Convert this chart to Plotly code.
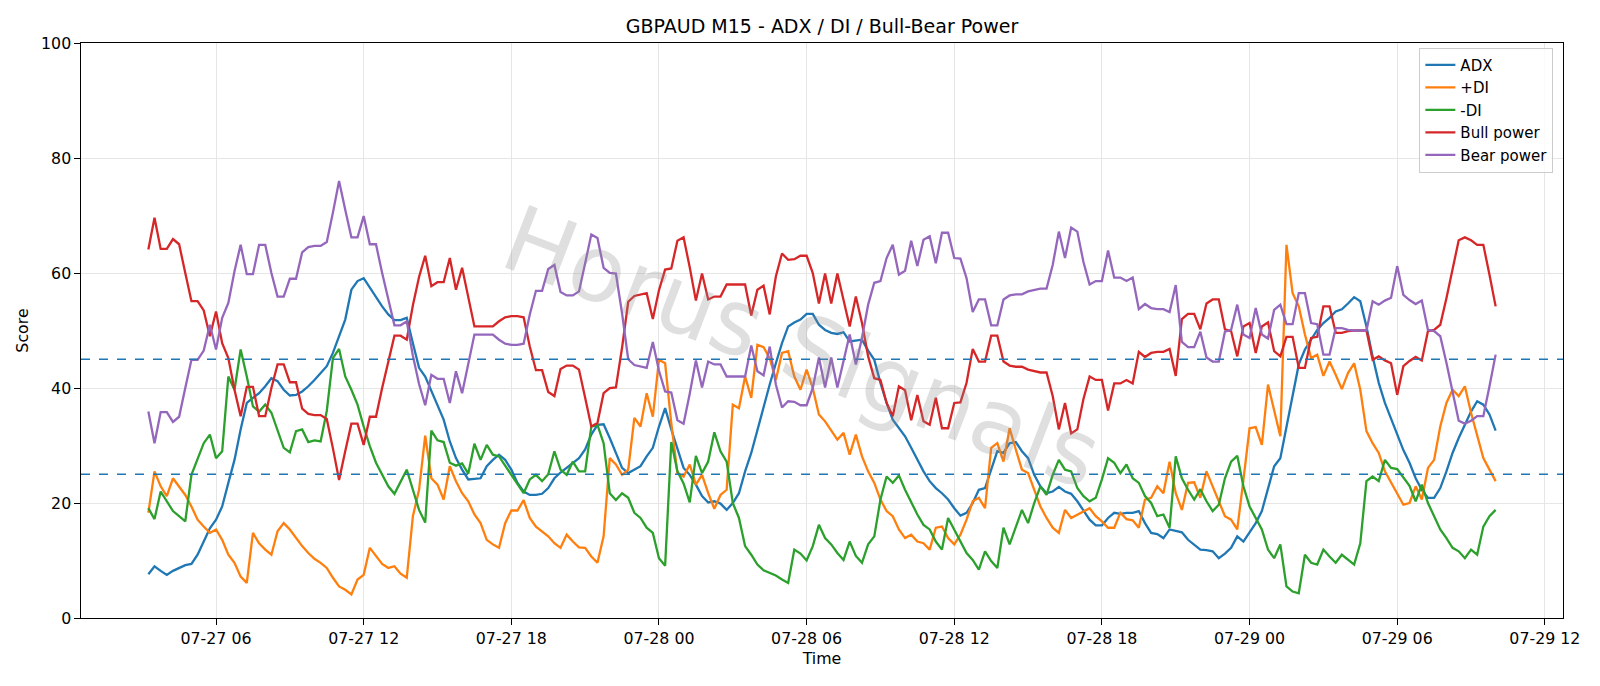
import pandas as pd
import plotly.graph_objects as go

start = "2020-07-27 03:15"
n_points = 220

adx = [
    7.6, 9.0, 8.2, 7.5, 8.2, 8.7, 9.2, 9.4, 11.0, 13.3,
    15.6, 17.1, 19.4, 23.5, 27.5, 32.8, 37.4, 38.3, 39.1, 40.3,
    41.7, 41.2, 39.7, 38.7, 38.8, 39.4, 40.3, 41.4, 42.6, 43.8,
    46.1, 49.0, 51.9, 57.1, 58.6, 59.1, 57.4, 55.7, 54.2, 52.8,
    51.8, 51.8, 52.2, 47.8, 43.5, 42.0, 39.4, 36.8, 34.5, 30.7,
    27.8, 25.8, 24.1, 24.2, 24.3, 26.4, 27.5, 28.4, 27.5, 25.8,
    23.5, 22.0, 21.4, 21.4, 21.6, 22.6, 24.3, 25.3, 26.1, 27.0,
    27.8, 29.3, 31.9, 33.6, 33.7, 31.3, 28.7, 26.1, 25.2, 25.8,
    26.4, 28.1, 29.6, 33.3, 36.5, 32.8, 29.3, 26.1, 24.9, 23.2,
    21.2, 20.1, 20.3, 19.9, 18.8, 20.0, 21.7, 25.5, 28.7, 32.8,
    36.8, 40.6, 44.3, 47.8, 50.7, 51.4, 51.9, 52.9, 52.9, 51.0,
    50.1, 49.6, 49.4, 49.7, 48.1, 48.2, 48.4, 46.5, 44.9, 40.9,
    37.4, 34.5, 33.0, 31.6, 29.6, 27.5, 25.5, 23.8, 22.6, 21.7,
    20.6, 19.1, 17.8, 18.3, 20.0, 22.3, 22.6, 25.8, 29.0, 28.7,
    30.4, 30.6, 29.0, 27.8, 24.9, 22.9, 21.7, 22.0, 22.8, 22.0,
    21.6, 20.3, 18.8, 17.1, 16.1, 16.1, 17.4, 18.3, 18.1, 18.3,
    18.3, 18.6, 16.5, 14.8, 14.6, 13.9, 15.4, 15.2, 14.9, 13.6,
    12.8, 11.9, 11.8, 11.6, 10.4, 11.2, 12.2, 14.2, 13.3, 14.8,
    16.5, 18.6, 22.3, 26.4, 27.8, 33.3, 39.1, 44.1, 46.7, 48.4,
    50.1, 51.3, 52.2, 53.3, 53.7, 54.7, 55.8, 55.1, 50.7, 45.5,
    40.9, 37.4, 34.6, 31.9, 29.2, 27.0, 24.3, 22.3, 20.9, 20.9,
    22.6, 25.5, 28.7, 31.3, 33.6, 35.9, 37.7, 37.1, 35.4, 32.6,
]

plus_di = [
    18.3, 25.5, 22.9, 21.2, 24.3, 22.9, 21.4, 19.4, 17.1, 15.9,
    14.8, 15.4, 13.6, 11.0, 9.6, 7.2, 6.1, 14.8, 13.0, 11.9,
    11.0, 15.1, 16.5, 15.4, 13.9, 12.5, 11.3, 10.3, 9.6, 8.7,
    7.0, 5.5, 4.9, 4.1, 6.7, 7.5, 12.2, 10.7, 9.4, 8.7,
    9.0, 7.7, 7.0, 17.7, 22.3, 31.7, 24.3, 23.2, 20.6, 26.4,
    23.8, 21.7, 20.3, 18.0, 16.5, 13.6, 12.8, 12.2, 16.5, 18.7,
    18.7, 20.5, 17.4, 15.9, 15.1, 14.2, 13.0, 12.2, 14.5, 13.3,
    12.3, 12.2, 10.7, 9.6, 14.2, 27.8, 26.7, 24.9, 25.8, 34.8,
    33.3, 39.1, 35.0, 44.9, 44.3, 33.9, 25.2, 24.6, 26.7, 23.2,
    24.9, 21.7, 19.0, 21.4, 22.3, 37.1, 36.5, 42.0, 38.3, 47.5,
    47.1, 45.2, 41.4, 46.1, 46.4, 42.0, 39.7, 43.2, 40.0, 35.4,
    34.2, 32.5, 31.0, 32.2, 28.4, 31.9, 28.1, 25.5, 23.5, 20.6,
    18.6, 17.7, 15.4, 13.9, 14.5, 13.3, 13.0, 11.9, 15.7, 15.9,
    13.9, 12.8, 14.5, 17.1, 20.3, 20.9, 19.1, 29.6, 30.4, 27.2,
    33.0, 29.3, 25.8, 25.2, 22.3, 19.4, 17.4, 15.7, 14.8, 18.8,
    17.4, 18.0, 18.6, 19.1, 17.7, 16.8, 15.7, 15.7, 18.3, 17.2,
    17.0, 15.7, 20.6, 20.9, 22.9, 21.7, 27.2, 21.7, 18.8, 23.5,
    23.6, 20.9, 25.5, 22.9, 20.0, 17.7, 17.1, 15.4, 24.0, 33.0,
    33.2, 30.1, 40.6, 36.2, 31.6, 64.9, 56.5, 54.2, 49.3, 45.2,
    45.8, 42.1, 44.6, 42.3, 39.8, 42.6, 44.3, 39.7, 32.5, 30.4,
    28.7, 25.5, 23.5, 21.5, 19.7, 20.0, 22.9, 20.6, 26.1, 27.5,
    33.3, 37.4, 39.7, 38.6, 40.3, 35.7, 31.6, 27.8, 25.8, 23.8,
]

minus_di = [
    19.1, 17.2, 22.0, 20.3, 18.6, 17.7, 16.8, 24.9, 27.8, 30.4,
    31.9, 27.8, 29.0, 42.0, 39.7, 46.7, 42.0, 36.8, 35.9, 37.1,
    35.7, 32.5, 29.6, 28.8, 32.5, 32.8, 30.6, 30.9, 30.7, 36.0,
    45.2, 46.8, 42.0, 39.7, 37.1, 33.3, 29.9, 27.0, 24.9, 22.9,
    21.6, 23.8, 25.8, 22.3, 18.8, 16.6, 32.6, 30.9, 30.6, 27.0,
    26.5, 26.9, 25.1, 30.3, 27.5, 30.1, 28.4, 28.1, 26.5, 24.9,
    23.5, 21.7, 24.1, 24.9, 23.8, 25.0, 29.0, 25.8, 24.9, 27.2,
    25.5, 25.5, 33.3, 33.6, 30.4, 21.7, 20.5, 21.7, 20.9, 18.3,
    17.4, 15.7, 14.8, 10.4, 9.1, 30.6, 25.5, 23.4, 20.1, 28.2,
    25.2, 27.2, 32.3, 29.0, 27.2, 20.0, 17.4, 12.5, 11.0, 9.3,
    8.3, 7.8, 7.4, 6.7, 6.1, 11.9, 11.2, 10.0, 12.5, 16.2,
    13.9, 12.8, 11.3, 10.1, 13.3, 10.8, 9.6, 12.8, 14.2, 20.6,
    24.6, 23.5, 24.8, 22.3, 20.0, 18.0, 16.2, 15.4, 13.3, 11.9,
    17.4, 15.4, 13.3, 11.3, 10.1, 8.4, 11.6, 9.9, 8.7, 15.7,
    12.8, 15.7, 18.8, 16.5, 20.0, 22.9, 21.4, 24.9, 27.5, 25.8,
    25.5, 22.6, 21.2, 20.3, 20.9, 24.1, 27.8, 27.0, 25.2, 26.7,
    24.3, 23.5, 21.2, 20.0, 17.7, 18.0, 15.7, 28.1, 24.3, 22.3,
    20.6, 22.4, 20.3, 18.6, 19.7, 24.3, 27.2, 28.2, 22.9, 19.4,
    17.4, 15.4, 11.9, 10.4, 12.8, 5.5, 4.6, 4.3, 11.0, 9.6,
    9.3, 11.9, 10.7, 9.6, 11.0, 10.1, 9.3, 13.0, 23.8, 24.6,
    23.8, 27.5, 26.1, 25.9, 24.5, 23.0, 20.3, 23.2, 20.0, 17.7,
    15.4, 13.9, 12.2, 11.6, 10.4, 11.9, 11.0, 15.9, 17.7, 18.8,
]

bull_power = [
    64.1, 69.6, 64.2, 64.2, 65.9, 65.0, 60.0, 55.1, 55.1, 53.5,
    49.0, 53.3, 47.8, 45.2, 39.7, 35.1, 40.2, 40.2, 35.1, 35.1,
    40.0, 44.1, 44.1, 41.0, 41.0, 36.4, 35.5, 35.3, 35.3, 34.6,
    29.5, 24.0, 29.0, 33.8, 33.8, 30.1, 35.0, 35.0, 40.0, 44.6,
    49.1, 49.1, 48.4, 54.4, 59.3, 63.0, 57.7, 58.4, 58.4, 62.6,
    57.1, 60.9, 55.5, 50.7, 50.7, 50.7, 50.7, 51.6, 52.3, 52.5,
    52.5, 52.3, 47.2, 43.1, 43.1, 39.3, 38.6, 43.3, 43.9, 43.9,
    43.2, 38.3, 33.3, 33.9, 39.1, 40.0, 40.1, 47.0, 55.0, 56.0,
    56.3, 56.5, 52.0, 57.0, 60.6, 60.8, 65.6, 66.2, 61.0, 55.2,
    59.9, 55.4, 55.9, 55.9, 58.0, 58.0, 58.0, 58.0, 52.6, 57.1,
    57.8, 52.8, 59.4, 63.4, 62.3, 62.4, 63.0, 63.0, 60.0, 54.7,
    59.9, 54.7, 59.9, 55.4, 50.7, 55.9, 51.3, 45.5, 41.7, 41.4,
    37.4, 35.1, 40.3, 39.6, 34.4, 38.8, 34.2, 33.6, 38.3, 33.0,
    33.0, 37.4, 37.5, 40.9, 46.8, 44.6, 44.6, 49.1, 49.1, 44.6,
    43.9, 43.7, 43.7, 43.2, 42.9, 42.7, 42.7, 38.6, 32.8, 37.4,
    32.1, 32.8, 38.1, 42.0, 41.4, 41.4, 36.1, 40.8, 40.8, 41.4,
    40.8, 46.3, 45.4, 46.1, 46.3, 46.3, 46.8, 42.1, 52.0, 52.9,
    52.9, 50.2, 54.7, 55.4, 55.4, 50.2, 49.9, 45.5, 50.7, 51.3,
    46.1, 50.7, 51.4, 46.4, 45.5, 48.9, 48.9, 43.5, 43.5, 48.7,
    48.9, 54.2, 54.2, 49.6, 49.6, 49.9, 50.0, 50.0, 50.0, 44.9,
    45.5, 44.8, 44.3, 38.8, 43.8, 44.7, 45.4, 44.8, 49.9, 50.1,
    51.0, 55.6, 60.6, 65.7, 66.2, 65.7, 64.9, 64.9, 59.7, 54.2,
]

bear_power = [
    35.9, 30.4, 35.8, 35.8, 34.1, 35.0, 40.0, 44.9, 44.9, 46.5,
    51.0, 46.7, 52.2, 54.8, 60.3, 64.9, 59.8, 59.8, 64.9, 64.9,
    60.0, 55.9, 55.9, 59.0, 59.0, 63.6, 64.5, 64.7, 64.7, 65.4,
    70.5, 76.0, 71.0, 66.2, 66.2, 69.9, 65.0, 65.0, 60.0, 55.4,
    50.9, 50.9, 51.6, 45.6, 40.7, 37.0, 42.3, 41.6, 41.6, 37.4,
    42.9, 39.1, 44.5, 49.3, 49.3, 49.3, 49.3, 48.4, 47.7, 47.5,
    47.5, 47.7, 52.8, 56.9, 56.9, 60.7, 61.4, 56.7, 56.1, 56.1,
    56.8, 61.7, 66.7, 66.1, 60.9, 60.0, 59.9, 53.0, 45.0, 44.0,
    43.7, 43.5, 48.0, 43.0, 39.4, 39.2, 34.4, 33.8, 39.0, 44.8,
    40.1, 44.6, 44.1, 44.1, 42.0, 42.0, 42.0, 42.0, 47.4, 42.9,
    42.2, 47.2, 40.6, 36.6, 37.7, 37.6, 37.0, 37.0, 40.0, 45.3,
    40.1, 45.3, 40.1, 44.6, 49.3, 44.1, 48.7, 54.5, 58.3, 58.6,
    62.6, 64.9, 59.7, 60.4, 65.6, 61.2, 65.8, 66.4, 61.7, 67.0,
    67.0, 62.6, 62.5, 59.1, 53.2, 55.4, 55.4, 50.9, 50.9, 55.4,
    56.1, 56.3, 56.3, 56.8, 57.1, 57.3, 57.3, 61.4, 67.2, 62.6,
    67.9, 67.2, 61.9, 58.0, 58.6, 58.6, 63.9, 59.2, 59.2, 58.6,
    59.2, 53.7, 54.6, 53.9, 53.7, 53.7, 53.2, 57.9, 48.0, 47.1,
    47.1, 49.8, 45.3, 44.6, 44.6, 49.8, 50.1, 54.5, 49.3, 48.7,
    53.9, 49.3, 48.6, 53.6, 54.5, 51.1, 51.1, 56.5, 56.5, 51.3,
    51.1, 45.8, 45.8, 50.4, 50.4, 50.1, 50.0, 50.0, 50.0, 55.1,
    54.5, 55.2, 55.7, 61.2, 56.2, 55.3, 54.6, 55.2, 50.1, 49.9,
    49.0, 44.4, 39.4, 34.3, 33.8, 34.3, 35.1, 35.1, 40.3, 45.8,
]

threshold_levels = [25, 45]
y_ticks = [0, 20, 40, 60, 80, 100]
watermark_text = "Horus Signals"

times = pd.date_range(start, periods=n_points, freq="15min")

series = [
    ("ADX", adx, "#1f77b4"),
    ("+DI", plus_di, "#ff7f0e"),
    ("-DI", minus_di, "#2ca02c"),
    ("Bull power", bull_power, "#d62728"),
    ("Bear power", bear_power, "#9467bd"),
]

font_family = "DejaVu Sans"
fig = go.Figure()
for name, vals, color in series:
    fig.add_trace(go.Scatter(x=times, y=vals, mode="lines", name=name,
                             line=dict(color=color, width=2.3)))

for lvl in threshold_levels:
    fig.add_shape(type="line", xref="paper", x0=0, x1=1, yref="y", y0=lvl, y1=lvl,
                  line=dict(color="#1f77b4", width=1.6, dash="dash"), layer="above")

span = times[-1] - times[0]
pad = span * 0.05
x_range = [times[0] - pad, times[-1] + pad]
tick_times = pd.date_range("2020-07-27 06:00", "2020-07-29 12:00", freq="6h")

fig.add_annotation(text=watermark_text, xref="paper", yref="paper", x=0.486, y=0.47,
                   showarrow=False, textangle=21,
                   font=dict(family=font_family, size=92, color="rgba(140,140,140,0.28)"))

fig.update_layout(
    width=1600, height=686,
    margin=dict(l=81, r=37, t=43, b=68),
    paper_bgcolor="white", plot_bgcolor="white",
    font=dict(family=font_family, size=15.8, color="black"),
    title=dict(text="GBPAUD M15 - ADX / DI / Bull-Bear Power", x=0.5, xanchor="center",
               xref="paper", y=1 - 26.5 / 686, yanchor="middle", yref="container",
               font=dict(size=19, color="black")),
    legend=dict(x=0.9935, xanchor="right", y=0.992, yanchor="top",
                bgcolor="rgba(255,255,255,0.8)", bordercolor="#cccccc", borderwidth=1,
                font=dict(size=15), itemwidth=30, tracegroupgap=0),
    showlegend=True,
)
fig.update_xaxes(
    range=x_range, tickvals=list(tick_times), tickformat="%m-%d %H",
    showgrid=True, gridcolor="#e6e6e6", gridwidth=1.2,
    showline=True, linecolor="black", linewidth=1.3, mirror=True,
    ticks="outside", ticklen=5.5, tickwidth=1.3, tickcolor="black",
    title=dict(text="Time", font=dict(size=15.8), standoff=6),
    tickfont=dict(size=15.8), zeroline=False,
)
fig.update_yaxes(
    range=[0, 100], tickvals=y_ticks,
    showgrid=True, gridcolor="#e6e6e6", gridwidth=1.2,
    showline=True, linecolor="black", linewidth=1.3, mirror=True,
    ticks="outside", ticklen=5.5, tickwidth=1.3, tickcolor="black",
    title=dict(text="Score", font=dict(size=15.8), standoff=8),
    tickfont=dict(size=15.8), zeroline=False,
)

fig.write_html("out.html")
